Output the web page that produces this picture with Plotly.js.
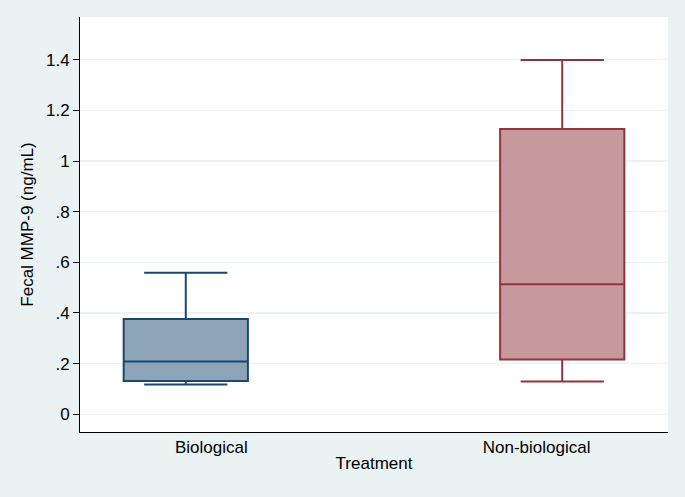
<!DOCTYPE html>
<html>
<head>
<meta charset="utf-8">
<script src="https://cdn.plot.ly/plotly-3.0.1.min.js"></script>
<style>html,body{margin:0;padding:0;background:#EAF2F3;}#chart{width:685px;height:497px;}</style>
</head>
<body>
<div id="chart"></div>
<script>
var categories = ["Biological", "Non-biological"];
var lowerWhisker = [0.118, 0.129];
var q1Values = [0.131, 0.216];
var medianValues = [0.208, 0.514];
var q3Values = [0.376, 1.127];
var upperWhisker = [0.559, 1.399];
var yTickVals = [0, 0.2, 0.4, 0.6, 0.8, 1, 1.2, 1.4];
var yTickText = ["0", ".2", ".4", ".6", ".8", "1", "1.2", "1.4"];

var lineColors = ["#1A476F", "#90353B"];
var fillColors = ["#8DA3B8", "#C8999C"];
// Stata places the over() labels slightly inward of the box centres
var labelOffset = [0.068, -0.068];

var traces = categories.map(function (c, i) {
  return {
    type: "box",
    x: [i],
    name: c,
    lowerfence: [lowerWhisker[i]],
    q1: [q1Values[i]],
    median: [medianValues[i]],
    q3: [q3Values[i]],
    upperfence: [upperWhisker[i]],
    width: 0.33,
    whiskerwidth: 0.67,
    line: {color: lineColors[i], width: 2},
    fillcolor: fillColors[i],
    boxpoints: false,
    hoverinfo: "none",
    showlegend: false
  };
});

var layout = {
  width: 685,
  height: 497,
  margin: {l: 80, r: 17, t: 17, b: 65},
  paper_bgcolor: "#EAF2F3",
  plot_bgcolor: "#FFFFFF",
  font: {family: "Liberation Sans, Arial, sans-serif", size: 17, color: "#000000"},
  showlegend: false,
  xaxis: {
    type: "linear",
    range: [-0.281, 1.281],
    tickmode: "array",
    tickvals: categories.map(function (c, i) { return i + labelOffset[i]; }),
    ticktext: categories,
    showgrid: false,
    zeroline: false,
    showline: true,
    linecolor: "#000000",
    linewidth: 1,
    ticks: "",
    tickfont: {size: 17},
    title: {text: "Treatment", font: {size: 17}, standoff: 0}
  },
  yaxis: {
    range: [-0.07, 1.569],
    tickvals: yTickVals,
    ticktext: yTickText,
    showgrid: true,
    gridcolor: "#EAF2F3",
    gridwidth: 1.2,
    zeroline: false,
    showline: true,
    linecolor: "#000000",
    linewidth: 1,
    ticks: "outside",
    ticklen: 6,
    tickcolor: "#000000",
    tickfont: {size: 17},
    title: {text: "Fecal MMP-9 (ng/mL)", font: {size: 17}, standoff: 8}
  }
};

Plotly.newPlot("chart", traces, layout, {displayModeBar: false, staticPlot: true});
</script>
</body>
</html>
